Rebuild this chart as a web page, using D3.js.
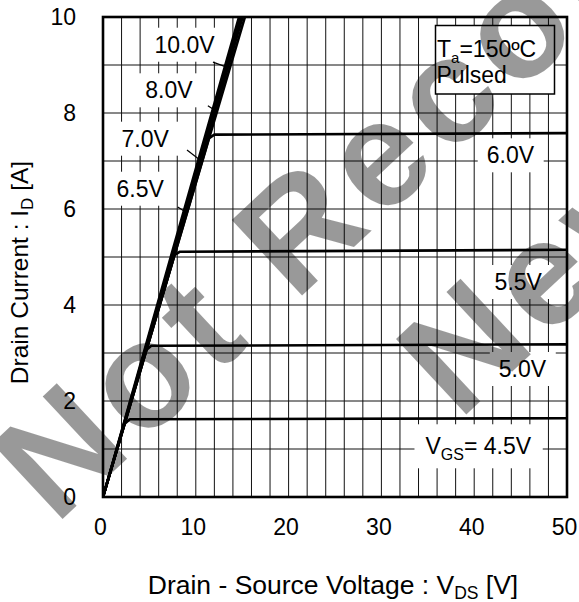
<!DOCTYPE html>
<html><head><meta charset="utf-8">
<script src="https://cdn.jsdelivr.net/npm/d3@7"></script>
<style>
body{margin:0;background:#fff}
svg{display:block}
text{font-family:"Liberation Sans",Arial,sans-serif;fill:#000}
</style>
</head><body>
<svg id="c" width="579" height="602"></svg>
<script>
// ---- data ----
const xTicks = [0, 10, 20, 30, 40, 50];
const yTicks = [0, 2, 4, 6, 8, 10];
const xGrid = d3.range(2, 50, 2);
const yGrid = d3.range(1, 10, 1);

const curve_4_5V  = [[0,0],[2.3,1.52],[2.9,1.62],[50,1.64]];
const curve_5_0V  = [[0,0],[4.6,3.05],[5.2,3.15],[50,3.18]];
const curve_5_5V  = [[0,0],[7.7,5.04],[8.3,5.11],[50,5.15]];
const curve_6_0V  = [[0,0],[11.4,7.47],[12.0,7.55],[50,7.58]];
const curve_6_5V  = [[0,0],[7.65,5.0],[15.6,10.2]];
const curve_7_0V  = [[0,0],[7.5,5.0],[15.35,10.2]];
const curve_8_0V  = [[0,0],[7.4,5.0],[15.15,10.2]];
const curve_10_0V = [[0,0],[7.3,5.0],[14.95,10.2]];
const curves = [curve_4_5V, curve_5_0V, curve_5_5V, curve_6_0V, curve_6_5V, curve_7_0V, curve_8_0V, curve_10_0V];

// curve labels: text, anchor (VDS, ID) of text start/baseline, leader line [from, to] in data units
const curveLabels = [
  {t:"10.0V", at:[5.55, 9.256], lead:[[11.85,9.06],[13.4,8.95]]},
  {t:"8.0V",  at:[4.55, 8.306], lead:[[11.3,8.15],[12.1,8.05]]},
  {t:"7.0V",  at:[2.0, 7.298],  lead:[[9.05,7.23],[10.45,7.02]]},
  {t:"6.5V",  at:[1.45, 6.256], lead:[[8.05,6.04],[8.95,5.93]]},
  {t:"6.0V",  at:[41.35, 6.952]},
  {t:"5.5V",  at:[42.2, 4.3125]},
  {t:"5.0V",  at:[42.65, 2.5]}
];

// ---- layout ----
const svg = d3.select("#c");
const L = 103, R = 567, T = 17, B = 497;
const x = d3.scaleLinear().domain([0, 50]).range([L, R]);
const y = d3.scaleLinear().domain([0, 10]).range([B, T]);

svg.append("clipPath").attr("id","clip").append("rect")
  .attr("x",L).attr("y",T).attr("width",R-L).attr("height",B-T);

// grid
const g = svg.append("g");
g.selectAll(".vg").data(xGrid).join("line")
  .attr("x1",d=>x(d)).attr("x2",d=>x(d)).attr("y1",T).attr("y2",B)
  .attr("stroke","#111").attr("stroke-width",1);
g.selectAll(".hg").data(yGrid).join("line")
  .attr("x1",L).attr("x2",R).attr("y1",d=>y(d)).attr("y2",d=>y(d))
  .attr("stroke","#111").attr("stroke-width",1);

// label boxes + labels
const lab = svg.append("g");
const FS = 23;
curveLabels.forEach(c=>{
  const t = lab.append("text").attr("x",x(c.at[0])).attr("y",y(c.at[1]))
    .attr("font-size",FS).text(c.t);
  const bb = t.node().getBBox();
  lab.insert("rect","text").attr("x",bb.x-9).attr("y",bb.y-4)
    .attr("width",bb.width+18).attr("height",bb.height+8).attr("fill","#fff");
  if (c.lead) {
    lab.append("line").attr("x1",x(c.lead[0][0])).attr("y1",y(c.lead[0][1]))
      .attr("x2",x(c.lead[1][0])).attr("y2",y(c.lead[1][1]))
      .attr("stroke","#000").attr("stroke-width",1.2);
  }
});
// VGS label
{
  const t = lab.append("text").attr("x",x(34.75)).attr("y",y(0.89)).attr("font-size",FS);
  t.append("tspan").text("V");
  t.append("tspan").attr("font-size",16).attr("dy",6).text("GS");
  t.append("tspan").attr("dy",-6).text("= 4.5V");
  const bb = t.node().getBBox();
  lab.insert("rect","text").attr("x",bb.x-11).attr("y",bb.y-9)
    .attr("width",bb.width+22).attr("height",bb.height+14).attr("fill","#fff");
}

// curves
const line = d3.line().x(d=>x(d[0])).y(d=>y(d[1]));
svg.append("g").attr("clip-path","url(#clip)")
  .selectAll("path").data(curves).join("path")
  .attr("d",line).attr("fill","none").attr("stroke","#000")
  .attr("stroke-width",2.6).attr("stroke-linejoin","round");

// Ta box
{
  const bx = svg.append("g");
  bx.append("rect").attr("x",435.5).attr("y",25.5).attr("width",119).attr("height",68.5)
    .attr("fill","#fff").attr("stroke","#000").attr("stroke-width",1.5);
  const t1 = bx.append("text").attr("x",437).attr("y",56.7).attr("font-size",FS);
  t1.append("tspan").text("T");
  t1.append("tspan").attr("font-size",15).attr("dy",6).text("a");
  t1.append("tspan").attr("dy",-6).text("=150ºC");
  bx.append("text").attr("x",436.5).attr("y",83.3).attr("font-size",FS).text("Pulsed");
}

// frame
svg.append("rect").attr("x",L).attr("y",T).attr("width",R-L).attr("height",B-T)
  .attr("fill","none").attr("stroke","#000").attr("stroke-width",2.6);

// axes
const ax = svg.append("g").attr("transform",`translate(0,${B})`)
  .call(d3.axisBottom(x).tickValues(xTicks).tickSize(0).tickPadding(21.5));
ax.select(".domain").remove();
ax.selectAll("text").attr("font-size",FS).attr("dx",-3).attr("fill","#000");
ax.attr("font-family",null);
const ay = svg.append("g").attr("transform",`translate(${L},0)`)
  .call(d3.axisLeft(y).tickValues(yTicks).tickSize(0).tickPadding(27));
ay.select(".domain").remove();
ay.selectAll("text").attr("font-size",FS).attr("fill","#000");
ay.attr("font-family",null);

// axis titles
{
  const t = svg.append("text").attr("x",333).attr("y",594).attr("text-anchor","middle").attr("font-size",26.5);
  t.append("tspan").text("Drain - Source Voltage : V");
  t.append("tspan").attr("font-size",17.5).attr("dy",5).text("DS");
  t.append("tspan").attr("dy",-5).text(" [V]");
}
{
  const t = svg.append("text").attr("transform","translate(28.3,272.5) rotate(-90)")
    .attr("text-anchor","middle").attr("font-size",24.5);
  t.append("tspan").text("Drain Current : I");
  t.append("tspan").attr("font-size",17).attr("dy",5).text("D");
  t.append("tspan").attr("dy",-5).text(" [A]");
}

// watermark overlay
const wm = svg.append("g").attr("pointer-events","none");
wm.append("text").attr("transform","translate(55.2,525.7) rotate(-43)")
  .attr("font-size",150).attr("letter-spacing",9).attr("font-weight","bold")
  .style("fill","#000").attr("fill-opacity",0.4)
  .text("Not Recommended for");
wm.append("text").attr("transform","translate(459,421.3) rotate(-43)")
  .attr("font-size",150).attr("letter-spacing",9).attr("font-weight","bold")
  .style("fill","#000").attr("fill-opacity",0.4)
  .text("New Designs");
</script>
</body></html>
